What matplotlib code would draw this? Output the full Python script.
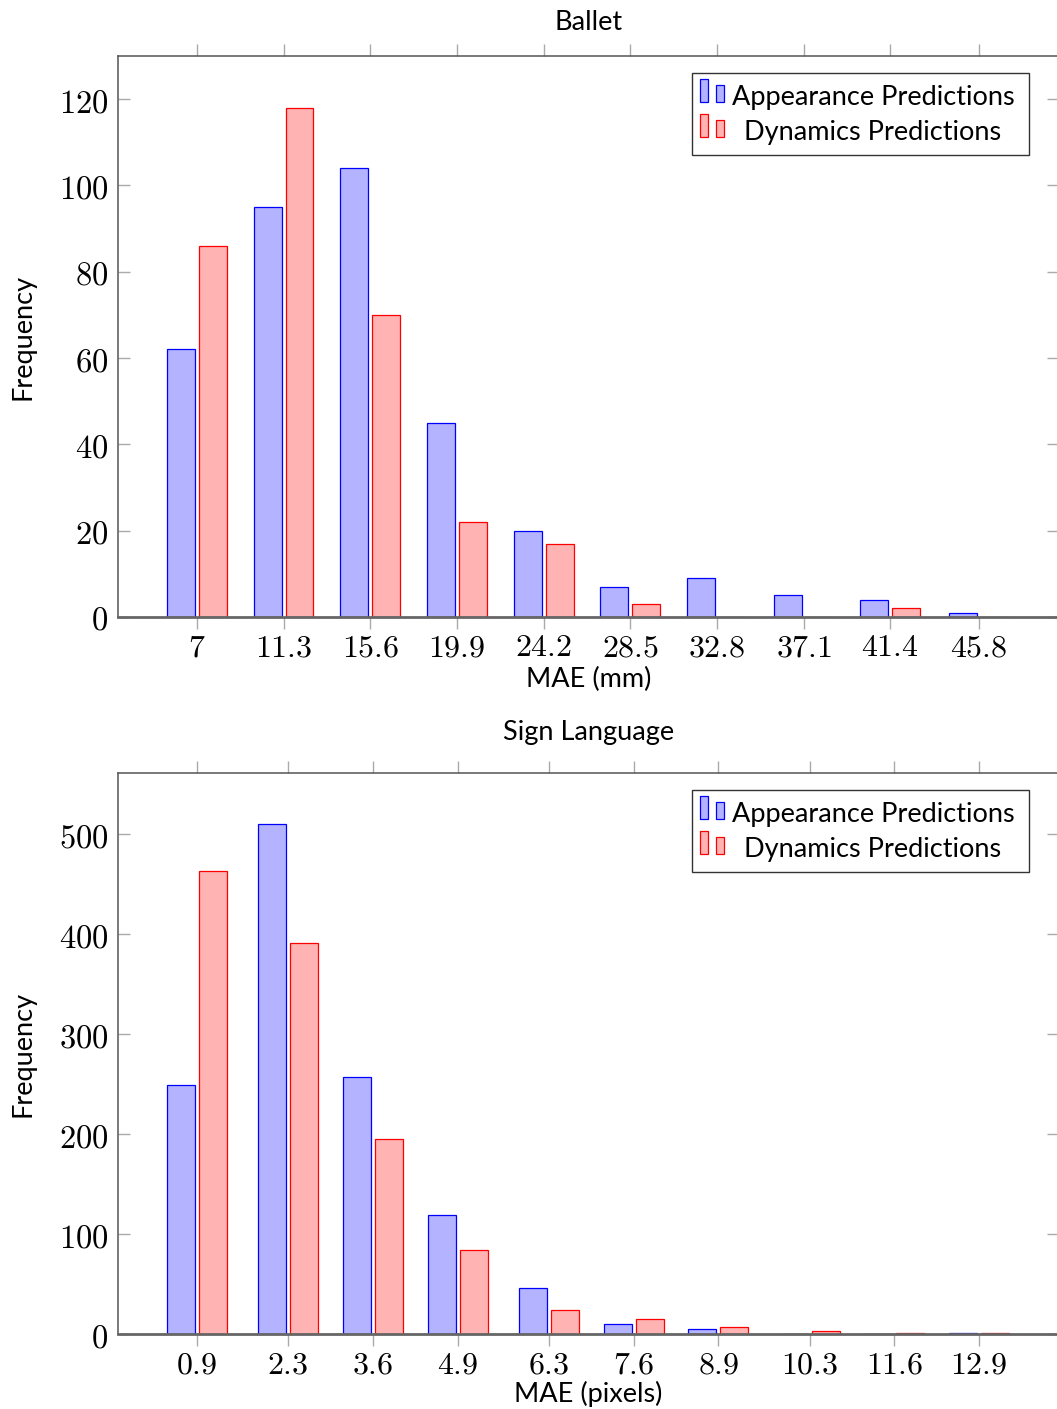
import matplotlib
matplotlib.use("Agg")
import matplotlib.pyplot as plt
from matplotlib.patches import Rectangle
import numpy as np

# ---------------------------------------------------------------------------
# datos
# ---------------------------------------------------------------------------
ballet_x = [7, 11.3, 15.6, 19.9, 24.2, 28.5, 32.8, 37.1, 41.4, 45.8]
ballet_labels = ["7", "11.3", "15.6", "19.9", "24.2", "28.5", "32.8", "37.1", "41.4", "45.8"]
ballet_apariencia = [62, 95, 104, 45, 20, 7, 9, 5, 4, 1]
ballet_dinamica = [86, 118, 70, 22, 17, 3, 0, 0, 2, 0]
ballet_yticks = [0, 20, 40, 60, 80, 100, 120]

signos_x = [0.9, 2.3, 3.6, 4.9, 6.3, 7.6, 8.9, 10.3, 11.6, 12.9]
signos_labels = ["0.9", "2.3", "3.6", "4.9", "6.3", "7.6", "8.9", "10.3", "11.6", "12.9"]
signos_apariencia = [249, 510, 257, 119, 46, 10, 5, 0, 0, 1]
signos_dinamica = [463, 391, 195, 84, 24, 15, 7, 3, 1, 1]
signos_yticks = [0, 100, 200, 300, 400, 500]

leyenda = ["Appearance Predictions", "Dynamics Predictions"]

AZUL, AZUL_RELLENO = "#0000ff", "#b3b3ff"
ROJO, ROJO_RELLENO = "#ff0000", "#ffb3b3"
SANS = "Lato"

plt.rcParams["mathtext.fontset"] = "cm"

W, H = 1057, 1409
fig = plt.figure(figsize=(W / 100, H / 100), dpi=100)

AX_L, AX_R, AX_H = 118, 1059, 561


def dibujar_leyenda(top_px):
    """Leyenda estilo pgfplots con textos centrados (coordenadas de figura)"""
    def fx(px):
        return px / W

    def fy(py):
        return 1 - (py + top_px - 56) / H

    t = fig.transFigure
    fig.patches.append(Rectangle((fx(692), fy(155)), fx(1029) - fx(692), fy(73) - fy(155),
                                 transform=t, facecolor="white", edgecolor="#333333",
                                 lw=1.0, zorder=5))
    filas = [(AZUL, AZUL_RELLENO, 0), (ROJO, ROJO_RELLENO, 35)]
    for (borde, relleno, dy), texto in zip(filas, leyenda):
        fig.patches.append(Rectangle((fx(700), fy(102 + dy)), fx(708) - fx(700),
                                     fy(79 + dy) - fy(102 + dy), transform=t,
                                     facecolor=relleno, edgecolor=borde, lw=0.9, zorder=6))
        fig.patches.append(Rectangle((fx(716), fy(102 + dy)), fx(724) - fx(716),
                                     fy(85 + dy) - fy(102 + dy), transform=t,
                                     facecolor=relleno, edgecolor=borde, lw=0.9, zorder=6))
        fig.text(fx(873), fy(105 + dy), texto, transform=t, ha="center", va="baseline",
                 fontsize=19.5, family=SANS, zorder=7)


def panel(top_px, x, labels, apariencia, dinamica, yticks, ymax, titulo, xlabel,
          titulo_px, xlabel_px):
    bottom_px = top_px + AX_H
    ax = fig.add_axes([AX_L / W, 1 - bottom_px / H, (AX_R - AX_L) / W, AX_H / H])
    x = np.array(x, dtype=float)
    paso = (x[-1] - x[0]) / (len(x) - 1)
    ancho = 0.32 * paso
    desp = 0.184 * paso
    ax.bar(x - desp, apariencia, width=ancho, color=AZUL_RELLENO, edgecolor=AZUL, lw=0.9, zorder=3)
    ax.bar(x + desp, dinamica, width=ancho, color=ROJO_RELLENO, edgecolor=ROJO, lw=0.9, zorder=3)

    ax.set_xlim(x[0] - 79 / 87 * paso, x[-1] + 80 / 87 * paso)
    ax.set_ylim(0, ymax)
    ax.set_xticks(x, labels=["$%s$" % l for l in labels])
    ax.set_yticks(yticks, labels=["$%d$" % v for v in yticks])

    ax.tick_params(axis="x", which="both", direction="out", length=8.5, width=1.0,
                   color="#aaaaaa", top=True, labeltop=False, labelsize=23, pad=2.5)
    ax.tick_params(axis="y", which="both", direction="in", length=8.5, width=1.0,
                   color="#aaaaaa", right=True, labelsize=23.5, pad=7)
    for lado in ["left", "top", "right"]:
        ax.spines[lado].set_color("#555555")
        ax.spines[lado].set_linewidth(1.1)
    ax.spines["bottom"].set_color("#666666")
    ax.spines["bottom"].set_linewidth(2.0)
    ax.spines["bottom"].set_zorder(4)

    ax.text(0.5, 1 - (titulo_px - top_px) / AX_H, titulo, transform=ax.transAxes,
            ha="center", va="baseline", fontsize=19.5, family=SANS)
    ax.text(-95 / (AX_R - AX_L), 0.5, "Frequency", transform=ax.transAxes, rotation=90,
            ha="center", va="center", fontsize=19.5, family=SANS)
    ax.text(0.5, 1 - (xlabel_px - top_px) / AX_H, xlabel, transform=ax.transAxes,
            ha="center", va="baseline", fontsize=19.5, family=SANS)
    dibujar_leyenda(top_px)
    return ax


panel(56, ballet_x, ballet_labels, ballet_apariencia, ballet_dinamica, ballet_yticks, 130,
      "Ballet", "MAE (mm)", 30, 687)
panel(773, signos_x, signos_labels, signos_apariencia, signos_dinamica, signos_yticks, 561,
      "Sign Language", "MAE (pixels)", 740, 1402)

fig.savefig("out.png", dpi=100)
